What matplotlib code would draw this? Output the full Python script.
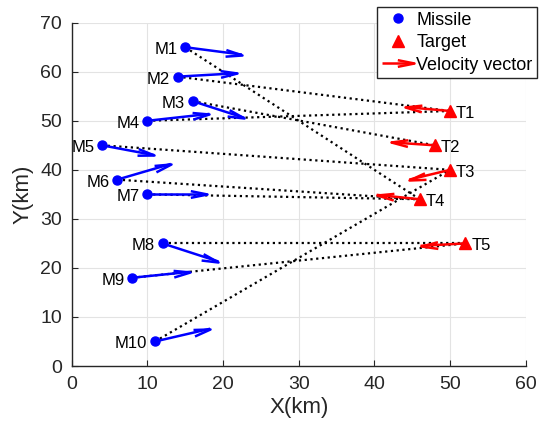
import numpy as np
import matplotlib
matplotlib.use("Agg")
import matplotlib.pyplot as plt
from matplotlib.lines import Line2D
from matplotlib.legend_handler import HandlerBase
from matplotlib.markers import MarkerStyle
from matplotlib.path import Path
from matplotlib.transforms import Affine2D

plt.rcParams['font.family'] = ['Liberation Sans', 'DejaVu Sans']

# Missile positions (km) and velocity vectors
missile_names = ["M1", "M2", "M3", "M4", "M5", "M6", "M7", "M8", "M9", "M10"]
missile_x = [15, 14, 16, 10, 4, 6, 10, 12, 8, 11]
missile_y = [65, 59, 54, 50, 45, 38, 35, 25, 18, 5]
missile_vx = [7.5, 7.9, 6.8, 8.2, 6.9, 7.1, 7.9, 7.4, 7.6, 7.3]
missile_vy = [-1.5, 0.7, -3.4, 1.4, -2.0, 3.2, 0.0, -3.7, 1.2, 2.6]

# Target positions (km) and velocity vectors
target_names = ["T1", "T2", "T3", "T4", "T5"]
target_x = [50, 48, 50, 46, 52]
target_y = [52, 45, 40, 34, 25]
target_vx = [-5.9, -5.8, -5.4, -5.7, -5.9]
target_vy = [0.8, 0.6, -2.0, 0.9, -0.5]

# Target index assigned to each missile
assignment = [3, 0, 1, 0, 2, 3, 3, 4, 4, 2]

fig = plt.figure(figsize=(5.44, 4.30), dpi=100)
ax = fig.add_axes([0.1318, 0.1488, 0.8346, 0.7984])
ax.set_xlim(0, 60)
ax.set_ylim(0, 70)

# Assignment lines
for i, t in enumerate(assignment):
    ax.plot([missile_x[i], target_x[t]], [missile_y[i], target_y[t]],
            linestyle=(0, (1, 1.6)), color='black', linewidth=1.6, zorder=2)

# Open "V" arrow head, tip at the marker origin, pointing along +x
head_path = Path([(-1, 0.2), (0, 0), (-1, -0.2)],
                 [Path.MOVETO, Path.LINETO, Path.LINETO])
head_size = 24
arrow_lw = 1.8


def head_marker(angle_deg):
    return MarkerStyle(head_path, fillstyle='none',
                       transform=Affine2D().rotate_deg(angle_deg))


def draw_vector(x, y, vx, vy, color):
    x1, y1 = x + vx, y + vy
    ax.plot([x, x1], [y, y1], color=color, lw=arrow_lw,
            solid_capstyle='butt', zorder=3)
    p0 = ax.transData.transform((x, y))
    p1 = ax.transData.transform((x1, y1))
    ang = np.degrees(np.arctan2(p1[1] - p0[1], p1[0] - p0[0]))
    ax.plot([x1], [y1], linestyle='none', marker=head_marker(ang),
            markersize=head_size, markeredgewidth=arrow_lw,
            markeredgecolor=color, markerfacecolor='none', zorder=3)


for i in range(len(missile_names)):
    draw_vector(missile_x[i], missile_y[i], missile_vx[i], missile_vy[i], 'blue')
for j in range(len(target_names)):
    draw_vector(target_x[j], target_y[j], target_vx[j], target_vy[j], 'red')

ax.plot(missile_x, missile_y, 'o', color='blue', markersize=6.5, zorder=4)
ax.plot(target_x, target_y, '^', color='red', markersize=8, zorder=4)

for i, name in enumerate(missile_names):
    ax.text(missile_x[i] - 1.0, missile_y[i] - 0.5, name, ha='right', va='center',
            fontsize=12, color='black')
for j, name in enumerate(target_names):
    ax.text(target_x[j] + 0.8, target_y[j] - 0.5, name, ha='left', va='center',
            fontsize=12, color='black')

ax.set_xticks(range(0, 61, 10))
ax.set_yticks(range(0, 71, 10))
ax.grid(True, color='#e3e3e3', linewidth=0.8)
ax.set_axisbelow(True)
for side in ('top', 'right'):
    ax.spines[side].set_visible(False)
for side in ('left', 'bottom'):
    ax.spines[side].set_color('#262626')
    ax.spines[side].set_linewidth(1.0)
ax.tick_params(direction='in', length=4, width=0.8, colors='#262626',
               labelsize=14, pad=7)
ax.set_xlabel('X(km)', fontsize=16, color='#262626', labelpad=3)
ax.set_ylabel('Y(km)', fontsize=16, color='#262626', labelpad=5)


class ArrowHandler(HandlerBase):
    def create_artists(self, legend, orig_handle, xdescent, ydescent, width,
                       height, fontsize, trans):
        y = height / 2 - ydescent
        x0, x1 = -xdescent, width - xdescent
        shaft = Line2D([x0, x1], [y, y], color='red', lw=arrow_lw,
                       solid_capstyle='butt', transform=trans)
        head = Line2D([x1], [y], linestyle='none', marker=head_marker(0),
                      markersize=head_size, markeredgewidth=arrow_lw,
                      markeredgecolor='red', markerfacecolor='none',
                      transform=trans)
        return [shaft, head]


h_missile = Line2D([], [], marker='o', color='blue', linestyle='none', markersize=6.5)
h_target = Line2D([], [], marker='^', color='red', linestyle='none', markersize=8)
h_vel = Line2D([], [], color='red')
leg = ax.legend([h_missile, h_target, h_vel], ['Missile', 'Target', 'Velocity vector'],
                handler_map={h_vel: ArrowHandler()},
                loc='upper right', bbox_to_anchor=(537 / 544, 1 - 7.3 / 430),
                bbox_transform=fig.transFigure, borderaxespad=0, fontsize=13,
                handlelength=1.8, handletextpad=0.1, labelspacing=0.3,
                borderpad=0.25, fancybox=False, framealpha=1, edgecolor='#262626')
leg.get_frame().set_linewidth(1.0)

fig.savefig('out.png', dpi=100)
